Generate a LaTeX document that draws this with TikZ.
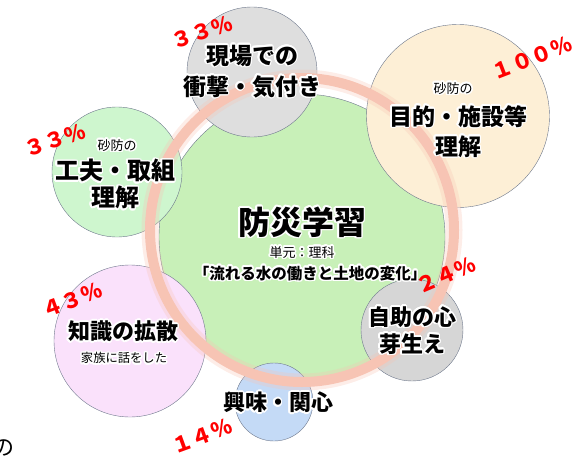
\documentclass[tikz,border=0pt]{standalone}
\usepackage{fontspec}
\setmainfont{Noto Sans CJK JP}
\usepackage[copies]{contour}
\contourlength{1.6pt}
\contournumber{20}

\definecolor{ringc}{RGB}{247,196,180}
\definecolor{mainc}{RGB}{200,240,184}
\definecolor{greyc}{RGB}{222,222,222}
\definecolor{darkgreyc}{RGB}{214,214,214}
\definecolor{creamc}{RGB}{253,239,214}
\definecolor{leafc}{RGB}{206,246,206}
\definecolor{pinkc}{RGB}{250,225,251}
\definecolor{bluec}{RGB}{196,218,246}
\definecolor{edgec}{RGB}{110,120,140}

\newcommand{\hl}[1]{\contour{white}{#1}}

\begin{document}
\begin{tikzpicture}[x=1pt,y=-1pt]
            \useasboundingbox (0,0) rectangle (583,455);
            \begin{scope}[every node/.style={circle,draw=edgec,line width=0.4pt,inner sep=0pt}]
                \node (M) [fill=mainc, minimum size=286pt] at (302,237) {};
                \node (G) [fill=greyc, minimum size=130pt] at (252,72) {};
                \node (O) [fill=creamc, minimum size=183pt] at (458,116) {};
                \node (L) [fill=leafc, minimum size=130pt] at (117,172) {};
                \node (P) [fill=pinkc, minimum size=152pt] at (130,341) {};
                \node (D) [fill=darkgreyc, minimum size=102pt] at (412,330) {};
                \node (B) [fill=bluec, minimum size=78pt] at (274,402) {};
            \end{scope}

            % soft ring
            \draw[ringc, line width=17pt, opacity=0.3] (302,230) circle (152);
            \draw[ringc, line width=10pt] (302,230) circle (152);

            \begin{scope}[every node/.style={align=center,inner sep=0pt}]
                \node (Gt) [font=\fontsize{23}{31}\selectfont\bfseries] at (252,72) {\hl{現場での}\\\hl{衝撃・気付き}};
                \node (Os) [font=\fontsize{13}{13}\selectfont] at (453,89) {\hl{砂防の}};
                \node (Ot) [font=\fontsize{23}{30}\selectfont\bfseries] at (458,132) {\hl{目的・施設等}\\\hl{理解}};
                \node (Ls) [font=\fontsize{13}{13}\selectfont] at (117,146) {\hl{砂防の}};
                \node (Lt) [font=\fontsize{24}{27}\selectfont\bfseries] at (115,185) {\hl{工夫・取組}\\\hl{理解}};
                \node (Mt) [font=\fontsize{32}{32}\selectfont\bfseries] at (302,223) {\hl{防災学習}};
                \node (Ms) [font=\fontsize{13}{13}\selectfont] at (302,253) {\hl{単元：理科}};
                \node (Mu) [font=\fontsize{15.5}{16}\selectfont\bfseries] at (310,274) {\hl{「流れる水の働きと土地の変化」}};
                \node (Pt) [font=\fontsize{22}{22}\selectfont\bfseries] at (123,332) {\hl{知識の拡散}};
                \node (Ps) [font=\fontsize{12.3}{13}\selectfont] at (124,359) {\hl{家族に話をした}};
                \node (Dt) [font=\fontsize{22}{27}\selectfont\bfseries] at (412,331) {\hl{自助の心}\\\hl{芽生え}};
                \node (Bt) [font=\fontsize{22}{22}\selectfont\bfseries] at (278,403) {\hl{興味・関心}};
            \end{scope}

            \begin{scope}[every node/.style={text=red,inner sep=0pt,font=\fontsize{21}{21}\selectfont\bfseries}]
                \node (Gp) [rotate=18] at (202,32) {３３％};
                \node (Lp) [rotate=18] at (55,140) {３３％};
                \node (Op) [rotate=21] at (532,58) {１００％};
                \node (Pp) [rotate=20] at (72,300) {４３％};
                \node (Dp) [rotate=23] at (446,275) {２４％};
                \node (Bp) [rotate=20] at (202,436) {１４％};
            \end{scope}

            \node (stray) [inner sep=0pt, font=\fontsize{22}{22}\selectfont] at (3,448) {の};
        \end{tikzpicture}
\end{document}
